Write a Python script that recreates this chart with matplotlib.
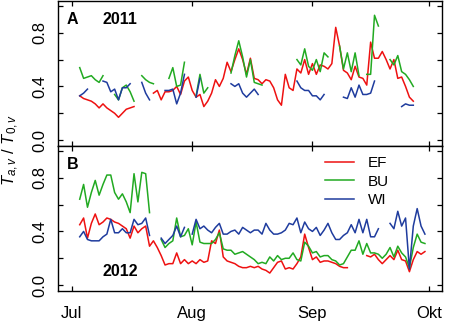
import numpy as np
import matplotlib
matplotlib.use("Agg")
import matplotlib.pyplot as plt

plt.rcParams['font.family'] = ['Liberation Sans', 'DejaVu Sans']
plt.rcParams['mathtext.fontset'] = 'custom'
plt.rcParams['mathtext.rm'] = 'Liberation Sans'
plt.rcParams['mathtext.it'] = 'Liberation Sans:italic'

nan = np.nan

# days counted from 1 July; every series starts on day 2
month_ticks = [0, 31, 62, 92]
month_labels = ['Jul', 'Aug', 'Sep', 'Okt']
series_names = ['EF', 'BU', 'WI']
start_day = 2

ef_2011 = [0.33, 0.31, 0.30, 0.29, 0.27, 0.24, 0.27, 0.24, 0.22, 0.20, 0.17, 0.20, 0.23, 0.24, 0.25,
           nan, nan, nan, nan,
           0.35, 0.37, 0.30, 0.36, 0.36, 0.37, 0.40, 0.34, 0.44, 0.47, 0.37, 0.32, 0.34, 0.25, 0.29,
           0.35, 0.45, 0.40, 0.46, 0.58, 0.51, 0.60, 0.68, 0.60, 0.49, 0.61, 0.46, 0.45, 0.42, 0.45,
           0.44, 0.39, 0.30, 0.26, 0.49, 0.39, 0.37, 0.53, 0.50, 0.60, 0.49, 0.57, 0.49, 0.56, 0.55,
           0.53, 0.57, 0.84, 0.70, 0.52, 0.50, 0.45, 0.55, 0.47, 0.46, 0.41, 0.73, 0.61, 0.61, 0.66,
           0.60, 0.53, 0.60, 0.46, 0.47, 0.40, 0.32, 0.29]
bu_2011 = [0.54, 0.46, 0.47, 0.48, 0.45, 0.43, 0.48, nan, nan,
           0.34, 0.30, 0.39, 0.41, 0.36, 0.29, nan,
           0.48, 0.45, 0.43, 0.42, nan, nan, nan,
           0.46, 0.54, 0.40, 0.41, 0.58, nan, nan,
           0.33, 0.49, 0.35, 0.39, nan, nan, nan, nan, nan,
           0.50, 0.63, 0.74, 0.62, 0.47, 0.60, 0.43, 0.42, 0.41,
           nan, nan, nan, nan, nan, nan, nan, nan,
           0.60, 0.56, 0.68, 0.55, 0.52, 0.60, 0.51, 0.65, 0.62, nan, nan,
           0.70, 0.53, 0.65, 0.51, 0.65, 0.48, nan,
           0.49, 0.49, 0.93, 0.85, nan, nan,
           0.60, 0.56, 0.63, 0.51, 0.49, 0.45, 0.40]
wi_2011 = [0.33, 0.35, 0.38, nan, nan, nan,
           0.44, 0.43, 0.36, 0.38, 0.30, 0.39, 0.39, 0.42, nan, nan,
           0.43, 0.35, 0.30, nan, nan, nan,
           0.37, 0.37, 0.38, 0.27, 0.35, 0.49, nan, nan,
           0.32, 0.46, nan, nan, nan, nan, nan, nan, nan,
           0.42, 0.40, 0.42, 0.35, 0.32, 0.35, 0.38, 0.34,
           nan, nan, nan, nan, nan, nan, nan, nan, nan,
           0.44, 0.39, 0.37, 0.37, 0.33, 0.33, 0.30, 0.34, nan, nan, nan, nan,
           0.32, 0.31, 0.39, 0.32, 0.41, 0.34, 0.34, 0.35, 0.44,
           nan, nan, nan, nan, nan, nan,
           0.25, 0.27, 0.26, 0.26]

ef_2012 = [0.45, 0.50, 0.35, 0.46, 0.53, 0.45, 0.47, 0.50, 0.49, 0.47,
           0.46, 0.44, 0.42, 0.35, 0.44, 0.39, 0.42, 0.44, 0.29, 0.33,
           0.28, 0.22, 0.15, 0.16, 0.16, 0.24, 0.16, 0.19, 0.16, 0.18,
           0.16, 0.19, 0.17, 0.18, 0.33, 0.31, 0.41, 0.21, 0.18, 0.17,
           0.16, 0.14, 0.13, 0.13, 0.14, 0.13, 0.14, 0.12, 0.11, 0.09,
           0.13, 0.17, 0.18, 0.12, 0.13, 0.12, 0.16, 0.21, 0.38, 0.28,
           0.19, 0.21, 0.17, 0.18, 0.18, 0.17, 0.16, 0.14, 0.13, 0.13,
           nan, nan, nan, nan,
           0.22, 0.21, 0.23, 0.19, 0.16, 0.19, 0.22, 0.19, 0.26, 0.19,
           0.18, 0.10, 0.19, 0.25, 0.23, 0.25]
bu_2012 = [0.64, 0.75, 0.58, 0.69, 0.78, 0.67, 0.75, 0.82, 0.82, 0.69,
           0.64, 0.68, 0.62, 0.54, 0.83, 0.62, 0.84, 0.83, 0.54, nan, nan,
           0.34, 0.28, 0.31, 0.33, 0.50, 0.36, 0.37, 0.42, 0.30, 0.47,
           0.32, 0.31, 0.31, 0.31, 0.34, 0.39, 0.27,
           0.26, 0.26, 0.23, 0.24, 0.25, 0.23, 0.21, 0.19, 0.16, 0.17,
           0.16, 0.21, 0.18, 0.22, 0.19, 0.20, 0.20, 0.24, 0.19, 0.18,
           0.32, 0.29, 0.24, 0.25, 0.21, 0.22, 0.22, 0.19, 0.18, 0.15,
           0.16, 0.21, 0.26, 0.26, 0.33, 0.23, 0.31, 0.24, 0.24, 0.23,
           0.20, 0.23, 0.28, 0.21, 0.29, 0.24, 0.21, 0.13, 0.28, 0.38,
           0.32, 0.31]
wi_2012 = [0.36, 0.40, 0.34, 0.33, 0.33, 0.33, 0.36, 0.38, 0.49, 0.39,
           0.39, 0.42, 0.39, 0.39, 0.49, 0.45, 0.46, 0.50, 0.37, nan, nan,
           0.35, 0.31, 0.34, 0.37, 0.44, 0.36, 0.43, nan,
           0.38, 0.49, 0.42, 0.44, 0.41, 0.39, 0.43, 0.46, 0.38, 0.38,
           0.40, 0.41, 0.38, 0.43, 0.41, 0.39, 0.41, 0.41, 0.38, 0.46,
           0.41, 0.38, 0.38, 0.39, 0.41, 0.46, 0.45, 0.50, 0.39, 0.47,
           0.42, 0.40, 0.43, 0.37, 0.41, 0.46, 0.39, 0.34, 0.34, 0.37,
           0.39, 0.45, 0.39, 0.49, 0.39, 0.49, 0.36, 0.36, 0.42, nan, nan,
           0.46, 0.42, 0.55, 0.44, 0.50, 0.12, 0.44, 0.57, 0.44, 0.38]

colors = ['#EE1111', '#22AA22', '#1F3C9E']

fig = plt.figure(figsize=(4.54, 3.22), dpi=100)
W, H = 454, 322
left, right = 58 / W, 442 / W
axA = fig.add_axes([left, 1 - 145.5 / H, right - left, 145 / H])
axB = fig.add_axes([left, 1 - 290.5 / H, right - left, 145 / H])


def draw_panel(ax, data):
    for values, name, c in zip(data, series_names, colors):
        x = start_day + np.arange(len(values))
        ax.plot(x, values, color=c, lw=1.1, label=name)
    ax.set_xlim(-3.6, 95.4)
    ax.set_ylim(-0.04, 1.04)
    ax.set_xticks(month_ticks)
    ax.set_yticks([0, 0.2, 0.4, 0.6, 0.8, 1.0])
    ax.set_yticklabels(['0.0', '', '0.4', '', '0.8', ''], rotation=90, va='center')
    ax.tick_params(direction='in', top=True, right=True, length=3.6, width=0.9,
                   labelsize=12, pad=8)
    for s in ax.spines.values():
        s.set_linewidth(1.0)


draw_panel(axA, [ef_2011, bu_2011, wi_2011])
draw_panel(axB, [ef_2012, bu_2012, wi_2012])
axA.set_xticklabels([])
axB.set_xticklabels(month_labels)
axB.tick_params(axis='x', pad=11)

axA.text(0.023, 0.866, 'A', transform=axA.transAxes, fontsize=11.5, fontweight='bold', va='center')
axA.text(0.117, 0.866, '2011', transform=axA.transAxes, fontsize=11.5, fontweight='bold', va='center')
axB.text(0.023, 0.866, 'B', transform=axB.transAxes, fontsize=11.5, fontweight='bold', va='center')
axB.text(0.117, 0.13, '2012', transform=axB.transAxes, fontsize=11.5, fontweight='bold', va='center')

axB.legend(loc='upper left', bbox_to_anchor=(0.695, 0.925), frameon=False, fontsize=11,
           handlelength=1.9, handletextpad=0.9, labelspacing=0.28, borderpad=0,
           borderaxespad=0)

fig.text(0.024, 0.534, r'$T_{a,v}$ / $T_{0,v}$', rotation=90, ha='center', va='center', fontsize=12)

fig.savefig('out.png', dpi=100)
